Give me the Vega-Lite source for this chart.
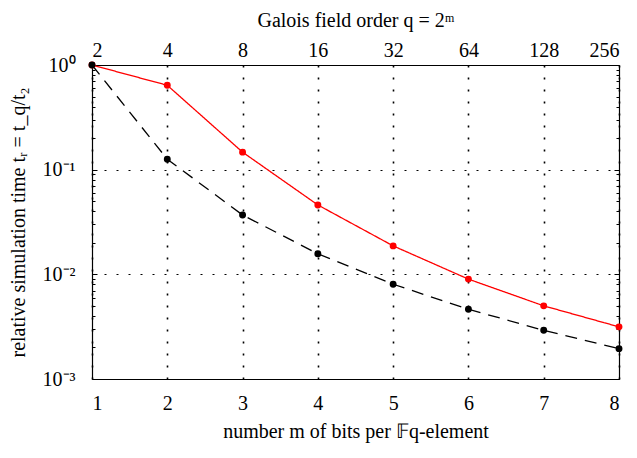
{
  "$schema": "https://vega.github.io/schema/vega-lite/v6.json",
  "width": 527,
  "height": 314,
  "autosize": {"type": "none"},
  "padding": {"left": 92, "top": 65, "right": 18, "bottom": 79},
  "config": {
    "view": {"stroke": null},
    "font": "Liberation Serif",
    "axis": {
      "labelFont": "Liberation Serif",
      "titleFont": "Liberation Serif",
      "labelFontSize": 20,
      "titleFontSize": 20,
      "titleFontWeight": "normal",
      "labelColor": "black",
      "titleColor": "black",
      "domainColor": "black",
      "tickColor": "black",
      "domainWidth": 1.2
    }
  },
  "data": {
    "values": [
      {"m": 1, "series": "red", "t": 1.0},
      {"m": 2, "series": "red", "t": 0.64},
      {"m": 3, "series": "red", "t": 0.147},
      {"m": 4, "series": "red", "t": 0.046},
      {"m": 5, "series": "red", "t": 0.0187},
      {"m": 6, "series": "red", "t": 0.009},
      {"m": 7, "series": "red", "t": 0.005},
      {"m": 8, "series": "red", "t": 0.00315},
      {"m": 1, "series": "black", "t": 1.0},
      {"m": 2, "series": "black", "t": 0.126},
      {"m": 3, "series": "black", "t": 0.0369},
      {"m": 4, "series": "black", "t": 0.0157},
      {"m": 5, "series": "black", "t": 0.00804},
      {"m": 6, "series": "black", "t": 0.00464},
      {"m": 7, "series": "black", "t": 0.00292},
      {"m": 8, "series": "black", "t": 0.00195}
    ]
  },
  "layer": [
    {
      "mark": {"type": "line", "strokeWidth": 1.3},
      "encoding": {
        "x": {
          "field": "m", "type": "quantitative",
          "scale": {"domain": [1, 8], "nice": false, "zero": false},
          "axis": {
            "orient": "bottom",
            "values": [1, 2, 3, 4, 5, 6, 7, 8],
            "format": "d",
            "title": "number m of bits per 𝔽q-element",
            "grid": true,
            "gridColor": "black",
            "gridDash": [2, 10],
            "gridWidth": 1.6,
            "ticks": false,
            "labelPadding": 14,
            "titlePadding": 8
          }
        },
        "y": {
          "field": "t", "type": "quantitative",
          "scale": {"type": "log", "domain": [0.001, 1], "nice": false},
          "axis": {
            "orient": "left",
            "values": [0.001, 0.002, 0.003, 0.004, 0.005, 0.006, 0.007, 0.008, 0.009, 0.01, 0.02, 0.03, 0.04, 0.05, 0.06, 0.07, 0.08, 0.09, 0.1, 0.2, 0.3, 0.4, 0.5, 0.6, 0.7, 0.8, 0.9, 1],
            "labelExpr": "abs(log(datum.value)/LN10 - round(log(datum.value)/LN10)) < 0.000001 ? (round(log(datum.value)/LN10) == 0 ? '10⁰' : round(log(datum.value)/LN10) == -1 ? '10⁻¹' : round(log(datum.value)/LN10) == -2 ? '10⁻²' : '10⁻³') : ''",
            "title": "relative simulation time tᵣ = t_q/t₂",
            "grid": true,
            "gridColor": "black",
            "gridDash": [2, 10],
            "gridWidth": 1,
            "gridOpacity": {"condition": {"test": "datum.value == 0.1 || datum.value == 0.01", "value": 1}, "value": 0},
            "tickSize": {"condition": {"test": "abs(log(datum.value)/LN10 - round(log(datum.value)/LN10)) < 0.000001", "value": -5}, "value": -3},
            "tickWidth": 1,
            "labelPadding": 22,
            "titlePadding": 14
          }
        },
        "color": {"field": "series", "type": "nominal", "scale": {"domain": ["red", "black"], "range": ["#ff0000", "#000000"]}, "legend": null},
        "strokeDash": {"field": "series", "type": "nominal", "scale": {"domain": ["red", "black"], "range": [[1, 0], [12, 8]]}, "legend": null}
      }
    },
    {
      "mark": {"type": "point", "filled": true, "size": 48, "opacity": 1},
      "encoding": {
        "x": {
          "field": "m", "type": "quantitative",
          "scale": {"domain": [1, 8], "nice": false, "zero": false},
          "axis": {
            "orient": "top",
            "values": [1, 2, 3, 4, 5, 6, 7, 8],
            "labelExpr": "format(pow(2, datum.value), 'd')",
            "title": "Galois field order q = 2ᵐ",
            "grid": false,
            "ticks": false,
            "labelPadding": 5,
            "titlePadding": 10
          }
        },
        "y": {
          "field": "t", "type": "quantitative",
          "scale": {"type": "log", "domain": [0.001, 1], "nice": false},
          "axis": {
            "orient": "right",
            "values": [0.001, 0.002, 0.003, 0.004, 0.005, 0.006, 0.007, 0.008, 0.009, 0.01, 0.02, 0.03, 0.04, 0.05, 0.06, 0.07, 0.08, 0.09, 0.1, 0.2, 0.3, 0.4, 0.5, 0.6, 0.7, 0.8, 0.9, 1],
            "labels": false,
            "title": null,
            "grid": false,
            "tickSize": {"condition": {"test": "abs(log(datum.value)/LN10 - round(log(datum.value)/LN10)) < 0.000001", "value": -5}, "value": -3},
            "tickWidth": 1
          }
        },
        "color": {"field": "series", "type": "nominal", "scale": {"domain": ["red", "black"], "range": ["#ff0000", "#000000"]}, "legend": null}
      }
    }
  ],
  "resolve": {"axis": {"x": "independent", "y": "independent"}}
}
